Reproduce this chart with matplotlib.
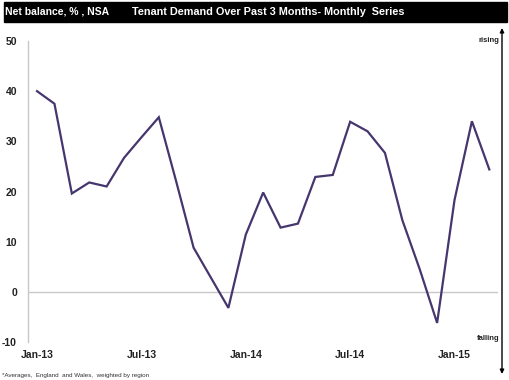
#!/usr/bin/env python3
import matplotlib
matplotlib.use("Agg")
import matplotlib.pyplot as plt
from matplotlib.patches import Rectangle, FancyArrowPatch

# -------------------------------------------------------
# Data (net balance, %)
# -------------------------------------------------------
months = [
    "Jan-13", "Feb-13", "Mar-13", "Apr-13", "May-13", "Jun-13",
    "Jul-13", "Aug-13", "Sep-13", "Oct-13", "Nov-13", "Dec-13",
    "Jan-14", "Feb-14", "Mar-14", "Apr-14", "May-14", "Jun-14",
    "Jul-14", "Aug-14", "Sep-14", "Oct-14", "Nov-14", "Dec-14",
    "Jan-15", "Feb-15", "Mar-15",
]
net_balance = [
    40.0, 37.5, 19.6, 21.8, 21.0, 26.7,
    30.8, 34.8, 22.0, 8.8, 2.8, -3.2,
    11.4, 19.8, 12.8, 13.6, 22.9, 23.3,
    33.9, 32.0, 27.7, 14.3, 4.5, -6.2,
    18.3, 34.0, 24.4,
]
tick_labels = ["Jan-13", "Jul-13", "Jan-14", "Jul-14", "Jan-15"]
y_ticks = [-10, 0, 10, 20, 30, 40, 50]

W, H = 510, 380
FONT = "Liberation Sans"
LINE_COLOR = "#46366e"

# -------------------------------------------------------
# Plot
# -------------------------------------------------------
fig = plt.figure(figsize=(W / 100, H / 100), dpi=100)
fig.patch.set_facecolor("white")

ax = fig.add_axes([28 / W, (H - 342) / H, (498 - 28) / W, (342 - 41) / H])
x = list(range(len(months)))
ax.plot(x, net_balance, color=LINE_COLOR, lw=1.6, solid_joinstyle="miter")

ax.set_xlim(-0.52, 26.5)
ax.set_ylim(-10, 50)
ax.axhline(0, color="#c8c8c8", lw=1.0, zorder=0)

ax.set_xticks([months.index(m) for m in tick_labels])
ax.set_xticklabels(tick_labels)
ax.set_yticks(y_ticks)
ax.set_yticklabels([str(v) for v in y_ticks])
for lab in ax.get_xticklabels() + ax.get_yticklabels():
    lab.set_fontfamily(FONT)
    lab.set_fontweight("bold")
    lab.set_fontsize(7.5)
    lab.set_color("#222222")
ax.tick_params(axis="both", length=0)
ax.tick_params(axis="x", pad=6)
ax.tick_params(axis="y", pad=8)

for side in ["top", "right", "bottom"]:
    ax.spines[side].set_visible(False)
ax.spines["left"].set_color("#c8c8c8")
ax.spines["left"].set_linewidth(1.0)

# title bar
fig.add_artist(Rectangle((4 / W, 1 - 22 / H), (507 - 4) / W, 20 / H,
                         transform=fig.transFigure, color="black"))
fig.text(5 / W, 1 - 12 / H, "Net balance, % , NSA", color="white",
         fontfamily=FONT, fontweight="bold", fontsize=7.5, va="center")
fig.text(132 / W, 1 - 12 / H, "Tenant Demand Over Past 3 Months- Monthly  Series",
         color="white", fontfamily=FONT, fontweight="bold", fontsize=7.8,
         va="center")

# rising / falling arrow on the right
fig.add_artist(FancyArrowPatch((502 / W, 1 - 374 / H), (502 / W, 1 - 28 / H),
                               transform=fig.transFigure, arrowstyle="<|-|>",
                               mutation_scale=6, color="black", lw=1.0,
                               shrinkA=0, shrinkB=0))
fig.text(499 / W, 1 - 41 / H, "rising", fontfamily=FONT, fontweight="bold",
         fontsize=5.5, ha="right", va="center", color="#222222")
fig.text(499 / W, 1 - 339 / H, "falling", fontfamily=FONT, fontweight="bold",
         fontsize=5.5, ha="right", va="center", color="#222222")

# footnote
fig.text(2 / W, 1 - 375 / H, "*Averages,  England  and Wales,  weighted by region",
         fontfamily=FONT, fontsize=4.5, va="center", color="#333333")

plt.savefig("out.png", dpi=100)
